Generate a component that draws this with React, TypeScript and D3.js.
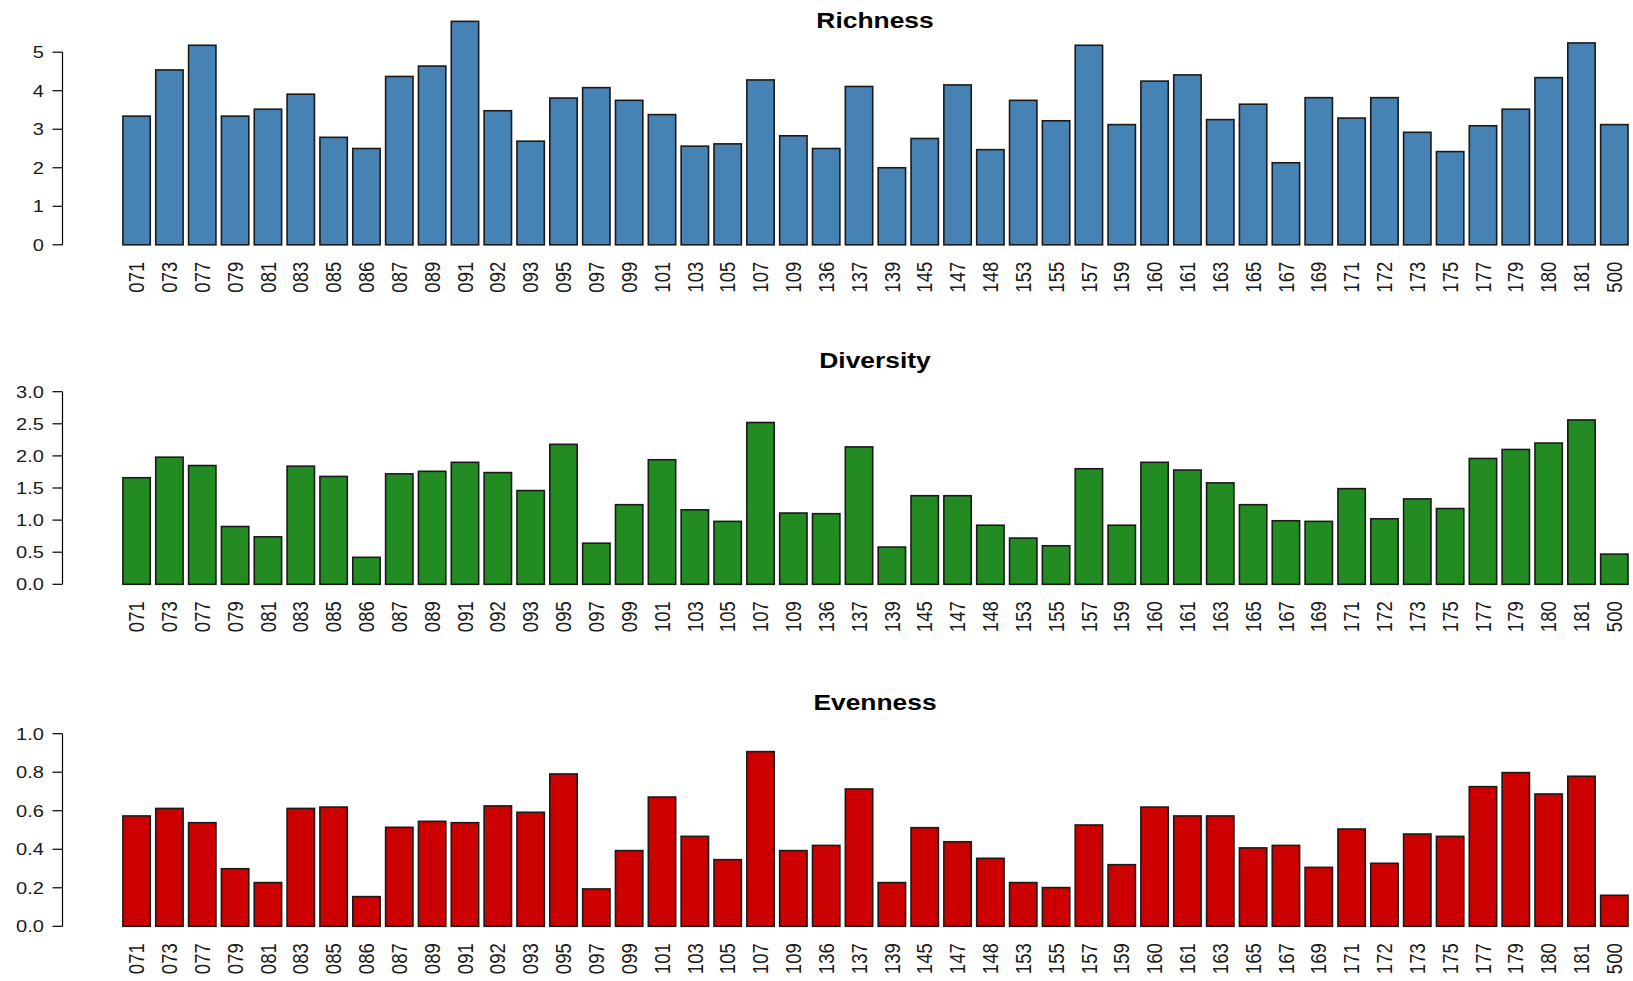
import React from 'react';
import * as d3 from 'd3';

const sites = ["071","073","077","079","081","083","085","086","087","089","091","092","093","095","097","099","101","103","105","107","109","136","137","139","145","147","148","153","155","157","159","160","161","163","165","167","169","171","172","173","175","177","179","180","181","500"];

const richness = [3.34,4.54,5.18,3.34,3.52,3.91,2.79,2.50,4.37,4.64,5.80,3.48,2.69,3.81,4.08,3.75,3.38,2.56,2.62,4.28,2.83,2.50,4.11,2.00,2.76,4.15,2.47,3.75,3.22,5.18,3.12,4.25,4.41,3.25,3.65,2.13,3.82,3.29,3.82,2.92,2.42,3.09,3.52,4.34,5.24,3.12];

const diversity = [1.66,1.98,1.85,0.90,0.74,1.84,1.68,0.42,1.72,1.76,1.90,1.74,1.46,2.18,0.64,1.24,1.94,1.16,0.98,2.52,1.11,1.10,2.14,0.58,1.38,1.38,0.92,0.72,0.60,1.80,0.92,1.90,1.78,1.58,1.24,0.99,0.98,1.49,1.02,1.33,1.18,1.96,2.10,2.20,2.56,0.47];

const evenness = [0.573,0.612,0.538,0.299,0.227,0.612,0.619,0.154,0.514,0.545,0.538,0.625,0.592,0.791,0.194,0.393,0.671,0.467,0.346,0.907,0.393,0.420,0.713,0.227,0.512,0.439,0.353,0.227,0.201,0.526,0.320,0.619,0.573,0.573,0.407,0.420,0.306,0.505,0.327,0.479,0.467,0.725,0.798,0.687,0.779,0.161];

const richnessTicks = [0, 1, 2, 3, 4, 5];
const diversityTicks = [0, 0.5, 1, 1.5, 2, 2.5, 3];
const evennessTicks = [0, 0.2, 0.4, 0.6, 0.8, 1];

const W = 1633;
const H = 981;

const panels = [
  { title: 'Richness', values: richness, ticks: richnessTicks, fmt: d3.format('d'), color: '#4682B4', base: 244.8 },
  { title: 'Diversity', values: diversity, ticks: diversityTicks, fmt: d3.format('.1f'), color: '#228B22', base: 584.3 },
  { title: 'Evenness', values: evenness, ticks: evennessTicks, fmt: d3.format('.1f'), color: '#CD0000', base: 926.3 },
];

const TICK_SPAN = 192.6;
const AXIS_X = 62.5;
const TITLE_X = 875;
const FONT = "'Liberation Sans', Arial, Helvetica, sans-serif";

export default function App() {
  const x = d3.scaleBand<string>()
    .domain(sites)
    .range([122.9, 1628])
    .paddingInner(0.2 / 1.2)
    .paddingOuter(0);

  return (
    <svg width={W} height={H} style={{ position: 'absolute', left: 0, top: 0, background: '#fff' }} fontFamily={FONT}>
      <rect x={0} y={0} width={W} height={H} fill="#fff" />
      {panels.map((p) => {
        const tmax = p.ticks[p.ticks.length - 1];
        const y = d3.scaleLinear().domain([0, tmax]).range([p.base, p.base - TICK_SPAN]);
        return (
          <g key={p.title}>
            <text
              x={TITLE_X}
              y={p.base - 216.5}
              textAnchor="middle"
              fontWeight="bold"
              fontSize={22}
              transform={`translate(${TITLE_X},0) scale(1.2,1) translate(${-TITLE_X},0)`}
              fill="#000"
            >
              {p.title}
            </text>
            {p.values.map((v, i) => (
              <rect
                key={sites[i]}
                x={x(sites[i])}
                y={y(v)}
                width={x.bandwidth()}
                height={y(0) - y(v)}
                fill={p.color}
                stroke="#1a1a1a"
                strokeWidth={1.6}
              />
            ))}
            <line x1={AXIS_X} x2={AXIS_X} y1={y(0)} y2={y(tmax)} stroke="#000" strokeWidth={1.2} />
            {p.ticks.map((t) => (
              <g key={t}>
                <line x1={AXIS_X - 10} x2={AXIS_X} y1={y(t)} y2={y(t)} stroke="#000" strokeWidth={1.2} />
                <text
                  x={44}
                  y={y(t)}
                  dy="0.36em"
                  textAnchor="end"
                  fontSize={17}
                  fill="#1a1a1a"
                  transform={`translate(44,0) scale(1.18,1) translate(-44,0)`}
                >
                  {p.fmt(t)}
                </text>
              </g>
            ))}
            {sites.map((s) => {
              const cx = (x(s) as number) + x.bandwidth() / 2;
              const ty = p.base + 17;
              return (
                <text
                  key={s}
                  transform={`translate(${cx},${ty}) rotate(-90) scale(1,1.15)`}
                  textAnchor="end"
                  dy="0.36em"
                  fontSize={18.5}
                  fill="#1a1a1a"
                >
                  {s}
                </text>
              );
            })}
          </g>
        );
      })}
    </svg>
  );
}
